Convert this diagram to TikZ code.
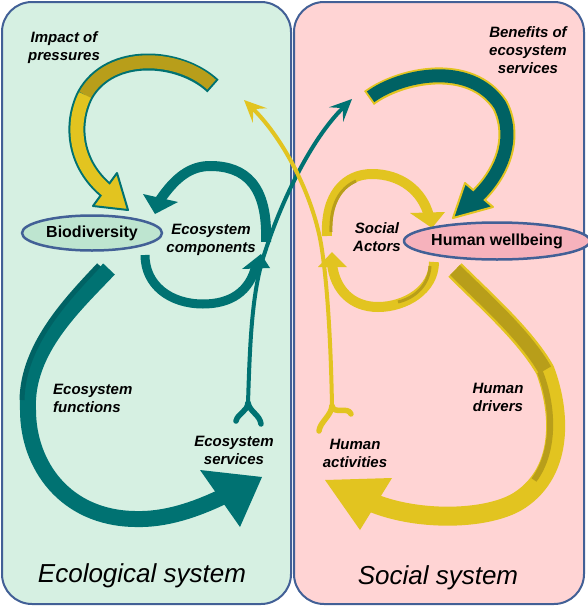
\documentclass[tikz,border=0pt]{standalone}
\usepackage{fontspec}
\setmainfont{Liberation Sans}
\usetikzlibrary{arrows.meta,shapes.geometric}

\begin{document}
\begin{tikzpicture}
  [x=1pt,y=-1pt,line join=round,
  % Styles
  panel/.style={draw=frameblue,line width=2pt,rounded corners=30pt},
  oval/.style={ellipse,draw=frameblue,line width=2.5pt,inner sep=0pt,
    font=\fontsize{16}{18}\selectfont\bfseries},
  tag/.style={font=\fontsize{15}{18}\selectfont\bfseries\itshape,align=center,inner sep=0pt},
  system/.style={font=\fontsize{26}{30}\selectfont\itshape,inner sep=0pt},
  thin link/.style={line width=4pt,-{Stealth[length=22pt,width=20pt,inset=9pt]}},
  prong/.style={line width=5.5pt,line cap=round}]
  % Colors
  \definecolor{frameblue}{RGB}{66,96,150}
  \definecolor{ecogreen}{RGB}{214,240,226}
  \definecolor{socpink}{RGB}{255,212,212}
  \definecolor{ovalgreen}{RGB}{190,229,208}
  \definecolor{ovalpink}{RGB}{246,178,188}
  \definecolor{arrowteal}{RGB}{0,114,114}
  \definecolor{darkteal}{RGB}{0,98,100}
  \definecolor{arrowyellow}{RGB}{226,196,32}
  \definecolor{arrowolive}{RGB}{184,158,26}
  \useasboundingbox (0,0) rectangle (587,608);
  % The two systems
  \draw[panel,fill=ecogreen] (2,2) rectangle (291,604);
  \draw[panel,fill=socpink] (294,2) rectangle (584,604);
  % Ecosystem functions
  \coordinate (fun tail) at (109,269);
  \coordinate (fun end) at (224,496);
  \draw[arrowteal,line width=16pt] (fun tail) .. controls (75,305) and (25,350) .. (28,410)
    .. controls (28,465) and (65,518) .. (135,519) .. controls (165,520) and (195,510) .. (fun end);
  \draw[darkteal,line width=5pt] (99,265) .. controls (66,300) and (23,345) .. (22,400);
  \fill[arrowteal] (200,470) -- (262,477) -- (240,527) -- cycle;
  % Human drivers
  \coordinate (drv tail) at (455,270);
  \coordinate (drv end) at (373,503);
  \draw[arrowyellow,line width=19pt] (drv tail) .. controls (485,300) and (525,335) .. (545,370)
    .. controls (560,410) and (565,470) .. (520,500) .. controls (490,520) and (420,522) .. (drv end);
  \draw[arrowolive,line width=14pt] (drv tail) .. controls (485,300) and (525,335) .. (545,370);
  \draw[arrowolive,line width=6pt] (540,372) .. controls (553,405) and (556,450) .. (534,480);
  \fill[arrowyellow] (325,480) -- (392,478) -- (360,530) -- cycle;
  % Impact of pressures
  \coordinate (imp tail) at (213,86);
  \coordinate (imp bend) at (85,95);
  \coordinate (imp end) at (107,191);
  \draw[arrowteal,line width=17pt] (imp tail) .. controls (180,55) and (110,50) .. (imp bend)
    .. controls (70,125) and (75,165) .. (imp end);
  \filldraw[fill=arrowyellow,draw=arrowteal,line width=2pt] (93,206) -- (117,173) -- (128,210) -- cycle;
  \draw[arrowolive,line width=13pt,shorten <=2pt] (imp tail) .. controls (180,55) and (110,50) .. (imp bend);
  \draw[arrowyellow,line width=13pt] (imp bend) .. controls (70,125) and (75,165) .. (imp end);
  % Benefits of ecosystem services
  \coordinate (ben tail) at (369,98);
  \coordinate (ben bend) at (500,105);
  \coordinate (ben end) at (477,197);
  \draw[arrowyellow,line width=17pt] (ben tail) .. controls (400,75) and (470,60) .. (ben bend)
    .. controls (515,135) and (505,170) .. (ben end);
  \filldraw[fill=darkteal,draw=arrowyellow,line width=2pt] (465,183) -- (493,207) -- (453,218) -- cycle;
  \draw[darkteal,line width=13pt,shorten <=2pt] (ben tail) .. controls (400,75) and (470,60) .. (ben bend)
    .. controls (515,135) and (505,170) .. (ben end);
  % Ecosystem components loop
  \coordinate (cmp up start) at (266,242);
  \coordinate (cmp up end) at (160,200);
  \draw[arrowteal,line width=10pt] (cmp up start) .. controls (268,185) and (245,166) .. (210,166)
    .. controls (190,166) and (175,178) .. (cmp up end);
  \fill[arrowteal] (143,194) -- (178,202) -- (155,214) -- cycle;
  \coordinate (cmp low start) at (145,255);
  \coordinate (cmp low end) at (256,265);
  \draw[arrowteal,line width=9pt] (cmp low start) .. controls (145,285) and (170,304) .. (203,304)
    .. controls (230,304) and (250,292) .. (cmp low end);
  \fill[arrowteal] (242,269) -- (270,268) -- (261,254) -- cycle;
  % Social actors loop
  \coordinate (act up start) at (327,236);
  \coordinate (act up end) at (429,216);
  \draw[arrowyellow,line width=10pt] (act up start) .. controls (325,195) and (345,174) .. (372,174)
    .. controls (400,174) and (422,190) .. (act up end);
  \draw[arrowolive,line width=3pt] (331,232) .. controls (330,205) and (340,188) .. (356,181);
  \fill[arrowyellow] (410,213) -- (445,212) -- (432,228) -- cycle;
  \coordinate (act low start) at (434,262);
  \coordinate (act low end) at (332,264);
  \draw[arrowyellow,line width=10pt] (act low start) .. controls (434,290) and (405,307) .. (378,307)
    .. controls (352,307) and (335,290) .. (act low end);
  \draw[arrowolive,line width=3pt] (430,266) .. controls (429,285) and (415,298) .. (398,302);
  \fill[arrowyellow] (318,267) -- (347,267) -- (332,252) -- cycle;
  % Crossing links
  \coordinate (services fork) at (248,403);
  \coordinate (benefits tip) at (352,99);
  \draw[arrowteal,thin link] (services fork) .. controls (250,340) and (252,290) .. (265,252)
    .. controls (280,205) and (310,140) .. (benefits tip);
  \draw[arrowteal,prong] (services fork) .. controls (247,412) and (238,413) .. (236,421);
  \draw[arrowteal,prong] (services fork) .. controls (250,412) and (260,415) .. (261,424);
  \coordinate (activities fork) at (332,406);
  \coordinate (impact tip) at (244,100);
  \draw[arrowyellow,thin link] (activities fork) .. controls (331,350) and (328,290) .. (322,250)
    .. controls (315,200) and (285,140) .. (impact tip);
  \draw[arrowyellow,prong] (activities fork) .. controls (331,416) and (320,422) .. (319,431);
  \draw[arrowyellow,prong] (activities fork) .. controls (334,415) and (348,406) .. (351,414);
  % Labels
  \node[tag] (impact) at (64,48) {Impact of\\pressures};
  \node[tag] (benefits) at (528,50) {Benefits of\\ecosystem\\services};
  \node[oval,fill=ovalgreen,minimum width=140pt,minimum height=35pt] (biodiv) at (92,233) {Biodiversity};
  \node[oval,fill=ovalpink,minimum width=155pt,minimum height=37pt] (wellbeing) at (497,241) {Human wellbeing};
  \node[tag] (components) at (211,240) {Ecosystem\\components};
  \node[tag] (actors) at (377,237) {Social\\Actors};
  \node[tag,align=left,anchor=west] (functions) at (53,398) {Ecosystem\\functions};
  \node[tag] (services) at (234,450) {Ecosystem\\services};
  \node[tag] (drivers) at (498,397) {Human\\drivers};
  \node[tag] (activities) at (355,453) {Human\\activities};
  \node[system] (eco system) at (142,576) {Ecological system};
  \node[system] (soc system) at (438,578) {Social system};
\end{tikzpicture}
\end{document}
